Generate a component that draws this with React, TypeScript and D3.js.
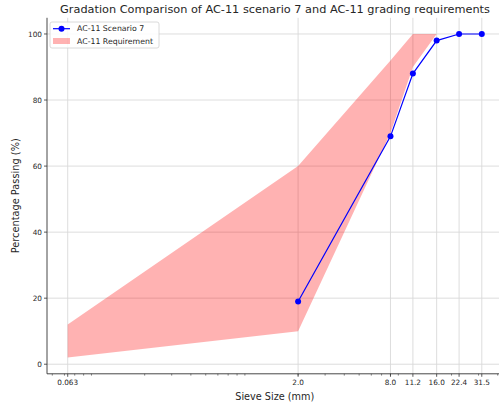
import React from "react";
import * as d3 from "d3";

const sieveSizes = [2.0, 8.0, 11.2, 16.0, 22.4, 31.5];
const scenarioPassing = [19, 69, 88, 98, 100, 100];

const reqSieves = [0.063, 2.0, 8.0, 11.2, 16.0];
const reqLower = [2, 10, 70, 90, 100];
const reqUpper = [12, 60, 92, 100, 100];

const xTickValues = [0.063, 2.0, 8.0, 11.2, 16.0, 22.4, 31.5];
const xTickLabels = ["0.063", "2.0", "8.0", "11.2", "16.0", "22.4", "31.5"];
const yTickValues = [0, 20, 40, 60, 80, 100];

const titleText = "Gradation Comparison of AC-11 scenario 7 and AC-11 grading requirements";
const xLabel = "Sieve Size (mm)";
const yLabel = "Percentage Passing (%)";
const seriesName = "AC-11 Scenario 7";
const bandName = "AC-11 Requirement";

const W = 499;
const H = 408;
const left = 47;
const right = 502.5;
const top = 17.8;
const bottom = 373.8;
const font = "DejaVu Sans, sans-serif";

export default function App() {
  const lmin = Math.log10(0.063);
  const lmax = Math.log10(31.5);
  const pad = 0.05 * (lmax - lmin);
  const x = d3
    .scaleLog()
    .domain([Math.pow(10, lmin - pad), Math.pow(10, lmax + pad)])
    .range([left, right]);
  const y = d3.scaleLinear().domain([-2.9, 104.9]).range([bottom, top]);

  const bandData = reqSieves.map((s, i) => ({ s, lo: reqLower[i], hi: reqUpper[i] }));
  const area = d3
    .area<{ s: number; lo: number; hi: number }>()
    .x((d) => x(d.s))
    .y0((d) => y(d.lo))
    .y1((d) => y(d.hi));
  const lineData = sieveSizes.map((s, i) => ({ s, v: scenarioPassing[i] }));
  const line = d3
    .line<{ s: number; v: number }>()
    .x((d) => x(d.s))
    .y((d) => y(d.v));

  const [d0, d1] = x.domain();
  const minor: number[] = [];
  for (let e = -3; e <= 2; e++) {
    for (let m = 2; m <= 9; m++) {
      const v = m * Math.pow(10, e);
      if (v >= d0 && v <= d1) minor.push(v);
    }
  }

  const grid = "#d9d9d9";
  const txt = "#262626";

  return (
    <svg
      width={W}
      height={H}
      style={{ position: "absolute", left: 0, top: 0, background: "#fff" }}
      fontFamily={font}
    >
      <rect x={0} y={0} width={W} height={H} fill="#fff" />
      {/* grid */}
      {xTickValues.map((v, i) => (
        <line key={"gx" + i} x1={x(v)} x2={x(v)} y1={top} y2={bottom} stroke={grid} strokeWidth={0.9} />
      ))}
      {yTickValues.map((v, i) => (
        <line key={"gy" + i} x1={left} x2={right} y1={y(v)} y2={y(v)} stroke={grid} strokeWidth={0.9} />
      ))}
      {/* band */}
      <path d={area(bandData) || ""} fill="#ff0000" fillOpacity={0.3} stroke="none" />
      {/* line */}
      <path d={line(lineData) || ""} fill="none" stroke="#0000ff" strokeWidth={1.2} />
      {lineData.map((d, i) => (
        <circle key={"m" + i} cx={x(d.s)} cy={y(d.v)} r={3} fill="#0000ff" />
      ))}
      {/* spines */}
      <line x1={left} x2={left} y1={top} y2={bottom} stroke="#333" strokeWidth={0.9} />
      <line x1={left} x2={right} y1={bottom} y2={bottom} stroke="#333" strokeWidth={0.9} />
      {/* y ticks */}
      {yTickValues.map((v, i) => (
        <g key={"yt" + i}>
          <line x1={left - 3} x2={left} y1={y(v)} y2={y(v)} stroke="#333" strokeWidth={0.8} />
          <text x={left - 5} y={y(v)} dy="0.35em" textAnchor="end" fontSize={7.3} fill={txt}>
            {v}
          </text>
        </g>
      ))}
      {/* x minor ticks */}
      {minor.map((v, i) => (
        <line key={"mn" + i} x1={x(v)} x2={x(v)} y1={bottom} y2={bottom + 1.8} stroke="#333" strokeWidth={0.6} />
      ))}
      {/* x ticks */}
      {xTickValues.map((v, i) => (
        <g key={"xt" + i}>
          <line x1={x(v)} x2={x(v)} y1={bottom} y2={bottom + 3} stroke="#333" strokeWidth={0.8} />
          <text x={x(v)} y={bottom + 11.5} textAnchor="middle" fontSize={7.3} fill={txt}>
            {xTickLabels[i]}
          </text>
        </g>
      ))}
      {/* labels */}
      <text x={(left + right) / 2} y={400} textAnchor="middle" fontSize={9.7} fill={txt}>
        {xLabel}
      </text>
      <text
        transform={`translate(18.5, ${(top + bottom) / 2}) rotate(-90)`}
        textAnchor="middle"
        fontSize={9.8}
        fill={txt}
      >
        {yLabel}
      </text>
      <text x={275} y={12.5} textAnchor="middle" fontSize={11.3} fill={txt}>
        {titleText}
      </text>
      {/* legend */}
      <g>
        <rect x={50} y={22} width={109} height={26} rx={2} fill="#fff" fillOpacity={0.85} stroke="#d0d0d0" strokeWidth={0.8} />
        <line x1={53} x2={70} y1={28.7} y2={28.7} stroke="#0000ff" strokeWidth={1.2} />
        <circle cx={61.5} cy={28.7} r={3} fill="#0000ff" />
        <text x={77} y={28.7} dy="0.35em" fontSize={7.8} fill={txt}>
          {seriesName}
        </text>
        <rect x={53} y={38} width={17} height={6} fill="#ff0000" fillOpacity={0.3} />
        <text x={77} y={41.2} dy="0.35em" fontSize={7.8} fill={txt}>
          {bandName}
        </text>
      </g>
    </svg>
  );
}
